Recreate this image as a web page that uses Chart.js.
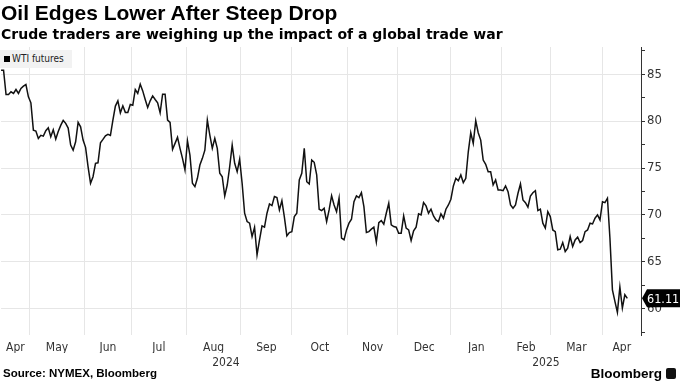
<!DOCTYPE html>
<html>
<head>
<meta charset="utf-8">
<script src="https://cdn.jsdelivr.net/npm/chart.js@4.4.1/dist/chart.umd.min.js"></script>
<style>
  html, body { margin: 0; padding: 0; background: #fff; }
  body { width: 680px; height: 382px; position: relative; overflow: hidden; font-family: 'Liberation Sans', Arial, sans-serif; color: #000; }
  #chart { position: absolute; left: 0; top: 0; }
  .title { position: absolute; left: 1px; top: 1px; font-size: 21px; font-weight: bold; white-space: nowrap; }
  .subtitle { position: absolute; left: 1px; top: 26px; font-family: 'DejaVu Sans', sans-serif; font-size: 14px; font-weight: bold; white-space: nowrap; }
  .legend { position: absolute; left: 0; top: 50px; height: 18px; width: 72px; background: #f2f2f2; font-family: 'Liberation Sans Narrow', 'DejaVu Sans Condensed', sans-serif; font-size: 10px; line-height: 18px; color: #222; }
  .legend i { display: inline-block; width: 6px; height: 6px; background: #000; margin: 0 2px 0 4px; vertical-align: 0; }
  .source { position: absolute; left: 3px; top: 367px; font-size: 11.5px; font-weight: bold; white-space: nowrap; }
  .brand { position: absolute; right: 4px; top: 366px; font-size: 13.5px; font-weight: bold; white-space: nowrap; }
  .brand span { display: inline-block; width: 10px; height: 11px; background: #111; border-radius: 2px; margin-left: 4px; vertical-align: -1px; }
</style>
</head>
<body>
<canvas id="chart" width="680" height="382"></canvas>
<div class="title">Oil Edges Lower After Steep Drop</div>
<div class="subtitle">Crude traders are weighing up the impact of a global trade war</div>
<div class="legend"><i></i>WTI futures</div>
<div class="source">Source: NYMEX, Bloomberg</div>
<div class="brand">Bloomberg<span></span></div>
<script>
// WTI front-month settle, one value per trading day (Apr 2024 - Apr 2025)
const wti = [
  85.43, 85.43, 82.84, 82.84, 83.12, 82.95, 83.37, 82.95, 83.48, 83.72,
  83.90, 82.59, 81.95, 79.04, 78.94, 78.16, 78.48, 78.40, 78.97, 79.29,
  78.33, 79.07, 78.09, 78.90, 79.54, 80.07, 79.76, 79.26, 77.45, 76.91,
  77.80, 79.86, 79.39, 77.98, 77.20, 75.14, 73.37, 74.07, 75.50, 75.56,
  77.69, 78.05, 78.44, 78.59, 78.48,
  80.11, 81.60, 82.16, 80.88, 81.63, 80.93, 80.93, 81.78, 81.70, 83.37,
  82.95, 83.94, 83.22, 82.31, 81.46, 82.16, 82.69, 82.31, 81.95, 80.88,
  82.87, 82.87, 80.11, 79.86, 76.99, 77.63, 78.27, 77.10, 76.03, 74.79,
  77.90, 76.38, 73.37, 73.01, 73.90, 75.32, 76.03, 76.91, 80.11, 78.51,
  77.10, 78.16, 77.10,
  74.44, 74.07, 72.02, 73.19, 75.14, 77.45, 75.50, 74.61, 75.93, 73.37,
  70.18, 69.29, 69.12, 67.69, 68.69, 65.74, 67.34, 68.83, 68.69, 70.18,
  71.17, 70.99, 71.95, 71.84, 70.53, 71.52, 69.76, 67.77, 68.12, 68.22,
  69.82, 70.18, 73.72, 74.44, 77.10, 73.54, 73.30, 75.85, 75.61, 74.26,
  70.61, 70.46,
  70.71, 69.29, 70.53, 72.05, 71.06, 70.35, 71.78, 67.52, 67.34, 68.40,
  69.12, 69.54, 71.41, 72.02, 71.84, 72.37, 70.88, 68.12, 68.22, 68.48,
  68.69, 67.10, 69.18, 69.39, 69.01, 70.18, 71.24, 68.94, 68.76, 68.69,
  68.05, 68.05, 69.89, 68.59, 68.40, 67.27, 68.30, 68.69, 70.11, 70.00,
  71.31, 70.96, 70.18, 70.61, 69.89, 69.47, 69.29, 70.11, 69.65, 70.61,
  71.06, 71.67, 73.09, 73.90, 73.65, 74.26, 73.44, 73.90, 76.73, 78.76,
  77.63, 80.03, 78.76, 77.98, 75.85, 75.39, 74.61, 74.61, 73.19, 73.72,
  72.66, 72.66, 72.59, 73.09, 72.48, 71.06, 70.71, 71.06, 72.31, 73.30,
  71.60, 71.31,
  70.82, 72.02, 72.37, 72.59, 70.46, 70.61, 69.12, 68.59, 70.35, 69.82,
  68.40, 68.22, 66.28, 66.35, 67.05, 66.10, 66.46, 67.69, 66.63, 67.34,
  67.63, 67.05, 67.27, 68.22, 68.40, 69.12, 69.04, 69.65, 70.00, 69.47,
  71.41, 71.31, 71.78, 67.52, 62.02, 60.78, 59.61, 62.31, 60.07, 61.49,
  61.11
];

// trading-day position where each new month starts (May 2024 ... Apr 2025)
const monthStarts = [11.5, 33.5, 52.5, 74.5, 96.5, 117, 139.5, 159.5, 181, 201.5, 221, 242];
const monthNames = ['Apr', 'May', 'Jun', 'Jul', 'Aug', 'Sep', 'Oct', 'Nov', 'Dec', 'Jan', 'Feb', 'Mar', 'Apr'];
const yearNames = ['2024', '2025'];
const yTicks = [57.5, 60, 62.5, 65, 67.5, 70, 72.5, 75, 77.5, 80, 82.5, 85, 87.5];

const xMax = 257.5;
const narrow = "'Liberation Sans Narrow', 'DejaVu Sans Condensed', 'Roboto', sans-serif";

// label spots sit in the middle of each month / year
const bounds = [0, ...monthStarts, xMax];
const monthMids = monthNames.map((m, i) => (bounds[i] + bounds[i + 1]) / 2);
const janStart = monthStarts[8];
const yearMids = [janStart / 2, (janStart + xMax) / 2];

const lastTag = {
  id: 'lastTag',
  afterDraw(chart) {
    const { ctx, chartArea } = chart;
    const last = wti[wti.length - 1];
    const yy = chart.scales.y.getPixelForValue(last);
    const x0 = chartArea.right + 1;
    ctx.save();
    ctx.fillStyle = '#000';
    ctx.beginPath();
    ctx.moveTo(x0, yy);
    ctx.lineTo(x0 + 5, yy - 9);
    ctx.lineTo(680, yy - 9);
    ctx.lineTo(680, yy + 9);
    ctx.lineTo(x0 + 5, yy + 9);
    ctx.closePath();
    ctx.fill();
    ctx.fillStyle = '#fff';
    ctx.font = '12.5px ' + narrow;
    ctx.textBaseline = 'middle';
    ctx.fillText(last.toFixed(2), x0 + 5, yy + 1);
    ctx.restore();
  }
};

const ctx = document.getElementById('chart').getContext('2d');
new Chart(ctx, {
  type: 'line',
  data: {
    datasets: [{
      label: 'WTI futures',
      data: wti.map((v, i) => ({ x: i, y: v })),
      borderColor: '#111',
      borderWidth: 1.5,
      pointRadius: 0,
      tension: 0,
      xAxisID: 'x',
      yAxisID: 'y'
    }]
  },
  options: {
    responsive: false,
    animation: false,
    layout: { padding: { top: 47, left: 0, right: 0, bottom: 14 } },
    plugins: { legend: { display: false }, tooltip: { enabled: false } },
    scales: {
      x: {
        type: 'linear', position: 'bottom', min: 0, max: xMax, weight: 0,
        afterBuildTicks: s => { s.ticks = monthStarts.map(v => ({ value: v })); },
        afterFit: s => { s.height = 0; },
        ticks: { display: false },
        grid: { color: '#e6e6e6', drawTicks: false },
        border: { display: false }
      },
      xMonths: {
        type: 'linear', position: 'bottom', min: 0, max: xMax, weight: 1,
        afterBuildTicks: s => { s.ticks = monthMids.map(v => ({ value: v })); },
        afterFit: s => { s.height = 18; },
        grid: { display: false, drawTicks: false },
        border: { display: false },
        ticks: {
          autoSkip: false, maxRotation: 0, padding: 6, color: '#333',
          font: { family: narrow, size: 12 },
          callback: (v, i) => monthNames[i]
        }
      },
      xYears: {
        type: 'linear', position: 'bottom', min: 0, max: xMax, weight: 2,
        afterBuildTicks: s => { s.ticks = yearMids.map(v => ({ value: v })); },
        afterFit: s => { s.height = 15; },
        grid: { display: false, drawTicks: false },
        border: { display: false },
        ticks: {
          autoSkip: false, maxRotation: 0, padding: 3, color: '#333',
          font: { family: narrow, size: 12 },
          callback: (v, i) => yearNames[i]
        }
      },
      y: {
        position: 'right', min: 57.2, max: 87.9,
        afterBuildTicks: s => { s.ticks = yTicks.map(v => ({ value: v })); },
        afterFit: s => { s.width = 39; },
        grid: {
          color: c => (c.tick && c.tick.value % 5 === 0) ? '#e6e6e6' : 'rgba(0,0,0,0)',
          tickColor: '#333', tickLength: 4
        },
        border: { display: true, color: '#333', width: 1 },
        ticks: {
          padding: 2, color: '#333',
          font: { family: narrow, size: 13 },
          callback: v => (v % 5 === 0 ? v : '')
        }
      }
    }
  },
  plugins: [lastTag]
});
</script>
</body>
</html>
